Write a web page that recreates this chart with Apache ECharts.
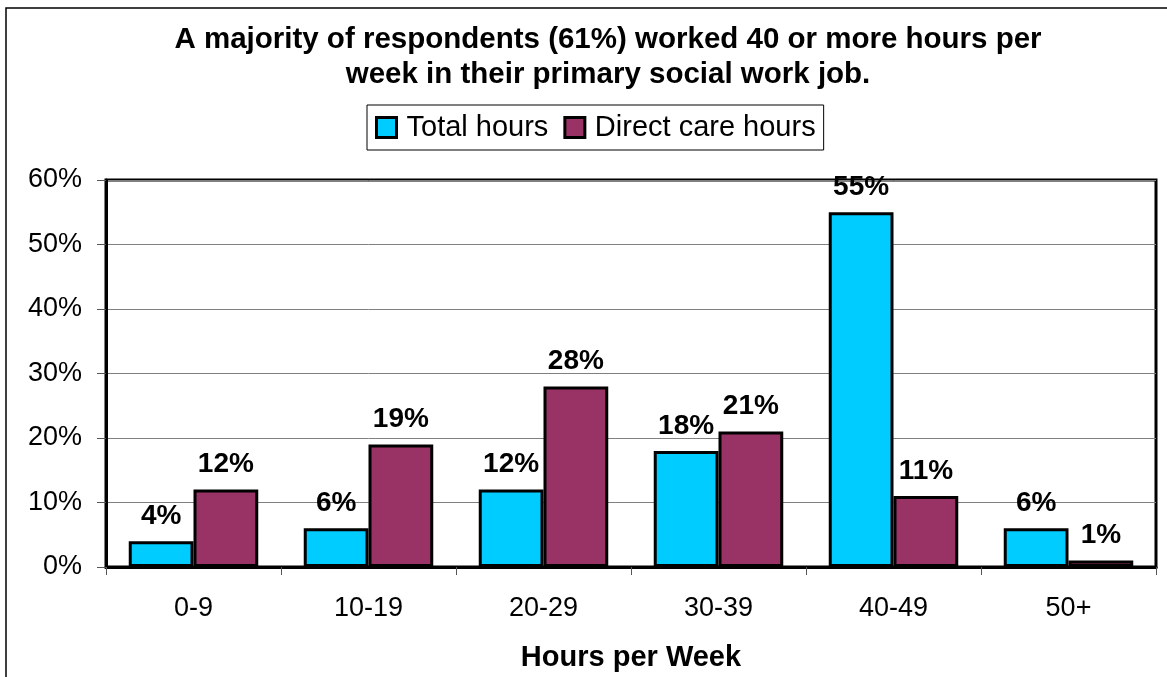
<!DOCTYPE html>
<html>
<head>
<meta charset="utf-8">
<script src="https://cdn.jsdelivr.net/npm/echarts@6/dist/echarts.min.js"></script>
<style>
    html, body { margin: 0; padding: 0; background: #fff; }
    #chart { width: 1167px; height: 677px; }
</style>
</head>
<body>
<div id="chart"></div>
<script>
// data
const categories = ["0-9", "10-19", "20-29", "30-39", "40-49", "50+"]
const totalHours = [4, 6, 12, 18, 55, 6]
const directCareHours = [12, 19, 28, 21, 11, 1]
const yTicks = [0, 10, 20, 30, 40, 50, 60]

const font = "'Liberation Sans', Arial, sans-serif"

const chart = echarts.init(document.getElementById("chart"))

const barLabel = {
    show: true,
    position: "top",
    distance: 11,
    formatter: "{c}%",
    color: "#000",
    fontFamily: font,
    fontWeight: "bold",
    fontSize: 28,
}

const option = {
    animation: false,
    backgroundColor: "#fff",
    textStyle: { fontFamily: font },
    graphic: [
        {
            type: "rect",
            shape: { x: 6, y: 8, width: 1200, height: 700 },
            style: { fill: "none", stroke: "#000", lineWidth: 1.5 },
            silent: true,
        },
    ],
    title: {
        text: "A majority of respondents (61%) worked 40 or more hours per\nweek in their primary social work job.",
        left: 603,
        top: 17,
        textAlign: "center",
        textStyle: {
            fontFamily: font,
            fontWeight: "bold",
            fontSize: 29.5,
            lineHeight: 35,
            color: "#000",
        },
    },
    legend: {
        left: 367,
        top: 105,
        padding: [8, 8, 8, 8],
        itemGap: 15,
        itemWidth: 20,
        itemHeight: 20,
        icon: "rect",
        itemStyle: { borderColor: "#000", borderWidth: 3 },
        borderColor: "#000",
        borderWidth: 1,
        textStyle: { fontFamily: font, fontSize: 29, color: "#000", padding: [0, 0, 0, 5] },
    },
    grid: {
        left: 106,
        right: 11,
        top: 180,
        bottom: 110,
        show: true,
        borderColor: "#000",
        borderWidth: 3,
    },
    xAxis: {
        type: "category",
        data: categories,
        name: "Hours per Week",
        nameLocation: "middle",
        nameGap: 76,
        nameTextStyle: { fontFamily: font, fontWeight: "bold", fontSize: 29, color: "#000" },
        axisLine: { show: true, lineStyle: { color: "#000", width: 3 } },
        axisTick: { show: true, length: 8, lineStyle: { color: "#555" } },
        axisLabel: { fontFamily: font, fontSize: 27, color: "#000", margin: 28 },
    },
    yAxis: {
        type: "value",
        min: yTicks[0],
        max: yTicks[yTicks.length - 1],
        interval: 10,
        axisLine: { show: true, lineStyle: { color: "#000", width: 3 } },
        axisTick: { show: true, length: 9, lineStyle: { color: "#555" } },
        axisLabel: { fontFamily: font, fontSize: 27, color: "#000", margin: 24, formatter: "{value}%" },
        splitLine: { show: true, lineStyle: { color: "#808080", width: 1 } },
    },
    series: [
        {
            name: "Total hours",
            type: "bar",
            data: totalHours,
            barGap: "0%",
            barCategoryGap: "26%",
            itemStyle: { color: "#00CCFF", borderColor: "#000", borderWidth: 3 },
            label: barLabel,
        },
        {
            name: "Direct care hours",
            type: "bar",
            data: directCareHours,
            itemStyle: { color: "#993366", borderColor: "#000", borderWidth: 3 },
            label: barLabel,
        },
    ],
}

chart.setOption(option)
</script>
</body>
</html>
